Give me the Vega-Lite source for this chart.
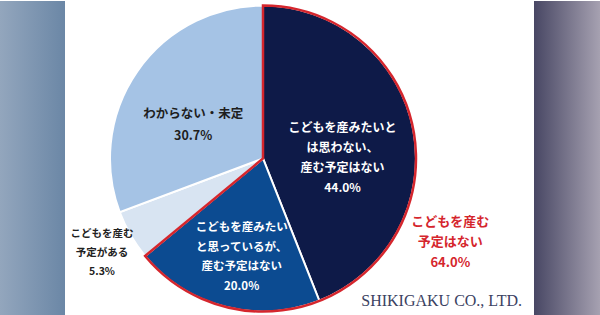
{
  "$schema": "https://vega.github.io/schema/vega-lite/v6.json",
  "padding": 0,
  "spacing": 0,
  "background": "white",
  "config": {"view": {"stroke": null}},
  "datasets": {
    "slices": [
      {"k": "a", "v": 44.0, "o": 1, "label": ["こどもを産みたいと", "は思わない、", "産む予定はない", "44.0%"]},
      {"k": "b", "v": 20.0, "o": 2, "label": ["こどもを産みたい", "と思っているが、", "産む予定はない", "20.0%"]},
      {"k": "c", "v": 5.3, "o": 3, "label": ["こどもを産む", "予定がある", "5.3%"]},
      {"k": "d", "v": 30.7, "o": 4, "label": ["わからない・未定", "30.7%"]}
    ],
    "groups": [
      {"g": "a", "v": 64.0, "o": 1, "label": ["こどもを産む", "予定はない", "64.0%"]},
      {"g": "b", "v": 36.0, "o": 2, "label": [""]}
    ],
    "blank": [{"z": 1}]
  },
  "hconcat": [
    {
      "width": 526,
      "height": 315,
      "view": {
        "stroke": null,
        "fill": {
          "gradient": "linear", "x1": 0, "y1": 0, "x2": 1, "y2": 0,
          "stops": [
            {"offset": 0, "color": "#93a6bd"},
            {"offset": 0.1236, "color": "#6b87a6"},
            {"offset": 0.1237, "color": "#ffffff"},
            {"offset": 1, "color": "#ffffff"}
          ]
        }
      },
      "title": {
        "text": "SHIKIGAKU CO., LTD.",
        "orient": "top",
        "anchor": "end",
        "frame": "group",
        "offset": -321,
        "baseline": "alphabetic",
        "dx": -4,
        "font": "Liberation Serif",
        "fontSize": 16,
        "fontWeight": "normal",
        "color": "#3b4262"
      },
      "layer": [
        {
          "data": {"name": "slices"},
          "mark": {"type": "arc", "radius": 153, "stroke": "white", "strokeWidth": 2},
          "encoding": {
            "theta": {"field": "v", "type": "quantitative", "stack": true},
            "order": {"field": "o", "type": "quantitative"},
            "color": {"field": "k", "type": "nominal", "legend": null,
              "scale": {"domain": ["a", "b", "c", "d"], "range": ["#0e1a48", "#0c4b91", "#d8e4f2", "#a5c3e5"]}}
          }
        },
        {
          "data": {"name": "groups"},
          "mark": {"type": "arc", "radius": 153, "fillOpacity": 0, "strokeWidth": 2.5, "strokeJoin": "miter"},
          "encoding": {
            "theta": {"field": "v", "type": "quantitative", "stack": true},
            "order": {"field": "o", "type": "quantitative"},
            "stroke": {"field": "g", "type": "nominal", "legend": null,
              "scale": {"domain": ["a", "b"], "range": ["#d5262d", "transparent"]}}
          }
        },
        {
          "data": {"name": "slices"},
          "mark": {"type": "text", "radius": 81, "dy": -15, "fontSize": 12, "lineHeight": 20, "font": "Noto Sans CJK JP", "fontWeight": "bold", "fill": "#ffffff"},
          "encoding": {
            "theta": {"field": "v", "type": "quantitative", "stack": true},
            "order": {"field": "o", "type": "quantitative"},
            "text": {"condition": {"test": "datum.k === 'a'", "field": "label"}, "value": ""}
          }
        },
        {
          "data": {"name": "slices"},
          "mark": {"type": "text", "radius": 98, "dx": 3, "dy": -25, "fontSize": 11.5, "lineHeight": 19.5, "font": "Noto Sans CJK JP", "fontWeight": "bold", "fill": "#ffffff"},
          "encoding": {
            "theta": {"field": "v", "type": "quantitative", "stack": true},
            "order": {"field": "o", "type": "quantitative"},
            "text": {"condition": {"test": "datum.k === 'b'", "field": "label"}, "value": ""}
          }
        },
        {
          "data": {"name": "slices"},
          "mark": {"type": "text", "radius": 186, "dy": -18, "fontSize": 10.5, "lineHeight": 19, "font": "Noto Sans CJK JP", "fontWeight": "bold", "fill": "#222222"},
          "encoding": {
            "theta": {"field": "v", "type": "quantitative", "stack": true},
            "order": {"field": "o", "type": "quantitative"},
            "text": {"condition": {"test": "datum.k === 'c'", "field": "label"}, "value": ""}
          }
        },
        {
          "data": {"name": "slices"},
          "mark": {"type": "text", "radius": 85, "dy": 4, "fontSize": 12.5, "lineHeight": 22, "font": "Noto Sans CJK JP", "fontWeight": "bold", "fill": "#1e1e1e"},
          "encoding": {
            "theta": {"field": "v", "type": "quantitative", "stack": true},
            "order": {"field": "o", "type": "quantitative"},
            "text": {"condition": {"test": "datum.k === 'd'", "field": "label"}, "value": ""}
          }
        },
        {
          "data": {"name": "groups"},
          "mark": {"type": "text", "radius": 207, "dy": -25, "fontSize": 13, "lineHeight": 20.5, "font": "Noto Sans CJK JP", "fontWeight": "bold", "fill": "#d5262d"},
          "encoding": {
            "theta": {"field": "v", "type": "quantitative", "stack": true},
            "order": {"field": "o", "type": "quantitative"},
            "text": {"condition": {"test": "datum.g === 'a'", "field": "label"}, "value": ""}
          }
        }
      ]
    },
    {
      "width": 74,
      "height": 315,
      "view": {
        "stroke": null,
        "fill": {
          "gradient": "linear", "x1": 0, "y1": 0, "x2": 1, "y2": 0,
          "stops": [
            {"offset": 0, "color": "#ffffff"},
            {"offset": 0.108, "color": "#ffffff"},
            {"offset": 0.109, "color": "#484764"},
            {"offset": 1, "color": "#a6a1b1"}
          ]
        }
      },
      "data": {"name": "blank"},
      "mark": {"type": "text"},
      "encoding": {"text": {"value": ""}}
    }
  ]
}
